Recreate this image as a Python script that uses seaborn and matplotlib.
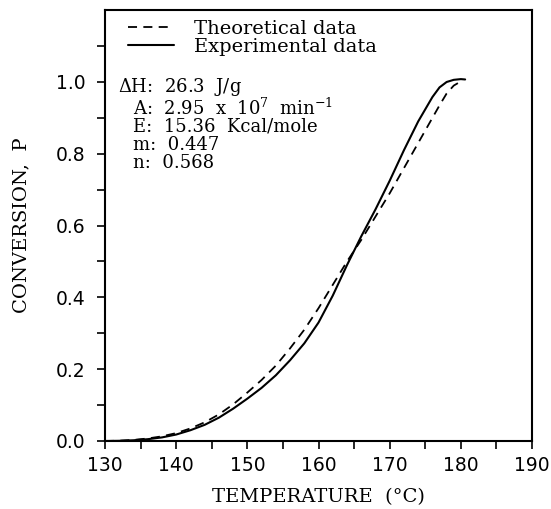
import numpy as np
import pandas as pd
import matplotlib
matplotlib.use('Agg')
import matplotlib.pyplot as plt
import seaborn as sns

# Experimental (solid) and theoretical (dashed) conversion curves
temp_exp = [130, 132, 134, 136, 138, 140, 142, 144, 146, 148, 150, 152, 154, 156,
            158, 160, 162, 164, 166, 168, 170, 172, 174, 176, 177, 178, 179, 180, 180.6]
conv_exp = [0.0, 0.0005, 0.002, 0.005, 0.01, 0.018, 0.03, 0.045, 0.065, 0.09,
            0.118, 0.148, 0.183, 0.225, 0.272, 0.33, 0.405, 0.49, 0.57, 0.645,
            0.725, 0.81, 0.89, 0.958, 0.985, 1.0, 1.006, 1.008, 1.007]

temp_theo = [130, 132, 134, 136, 138, 140, 142, 144, 146, 148, 150, 152, 154, 156,
             158, 160, 162, 164, 166, 168, 170, 172, 174, 176, 177, 178, 179, 179.6]
conv_theo = [0.0, 0.0008, 0.003, 0.007, 0.013, 0.022, 0.035, 0.052, 0.074, 0.102,
             0.135, 0.17, 0.21, 0.258, 0.31, 0.37, 0.435, 0.5, 0.56, 0.625,
             0.69, 0.76, 0.83, 0.9, 0.935, 0.968, 0.99, 0.997]

param_lines = [r'$\Delta$H:  26.3  J/g',
               r'A:  2.95  x  10$^{7}$  min$^{-1}$',
               'E:  15.36  Kcal/mole',
               'm:  0.447',
               'n:  0.568']

sns.set_theme(style='ticks')
plt.rcParams['font.family'] = ['DejaVu Serif']
plt.rcParams['mathtext.fontset'] = 'dejavuserif'

fig = plt.figure(figsize=(5.51, 5.09), dpi=100)
ax = fig.add_axes([0.1906, 0.1336, 0.775, 0.8464])

df_theo = pd.DataFrame({'T': temp_theo, 'P': conv_theo})
df_exp = pd.DataFrame({'T': temp_exp, 'P': conv_exp})
sns.lineplot(data=df_theo, x='T', y='P', ax=ax, color='black', lw=1.3,
             linestyle=(0, (5, 3.5)), label='Theoretical data', sort=False)
sns.lineplot(data=df_exp, x='T', y='P', ax=ax, color='black', lw=1.5,
             label='Experimental data', sort=False)

ax.set_xlim(130, 190)
ax.set_ylim(0, 1.2)
ax.set_xticks(np.arange(130, 191, 10))
ax.set_xticks(np.arange(135, 190, 10), minor=True)
ax.set_yticks(np.arange(0, 1.01, 0.2))
ax.set_yticks([0.1, 0.3, 0.5, 0.7, 0.9, 1.1], minor=True)
ax.set_yticklabels([f'{v:.1f}' for v in np.arange(0, 1.01, 0.2)])
for lab in ax.get_xticklabels() + ax.get_yticklabels():
    lab.set_family('DejaVu Sans')
ax.tick_params(which='both', direction='out', length=6, width=1.2,
               labelsize=13.5, color='black', labelcolor='black')
ax.tick_params(axis='y', pad=8)
ax.tick_params(axis='x', pad=5)
for s in ax.spines.values():
    s.set_linewidth(1.5)
    s.set_color('black')

ax.set_xlabel('TEMPERATURE  (°C)', fontsize=14, labelpad=9, color='black')
ax.set_ylabel('CONVERSION,  P', fontsize=14, labelpad=18, color='black')

ax.legend(loc='upper left', frameon=False, fontsize=14, handlelength=2.4,
          handletextpad=1.0, labelspacing=0.0, borderaxespad=0.0,
          bbox_to_anchor=(0.035, 0.995), labelcolor='black')

# parameter block, first line flush left, the rest indented
line_y = [0.822, 0.772, 0.729, 0.687, 0.645]
for i, line in enumerate(param_lines):
    x = 0.03 if i == 0 else 0.066
    ax.text(x, line_y[i], line, transform=ax.transAxes, fontsize=13,
            va='center', ha='left', color='black')

fig.savefig('out.png', dpi=100)
